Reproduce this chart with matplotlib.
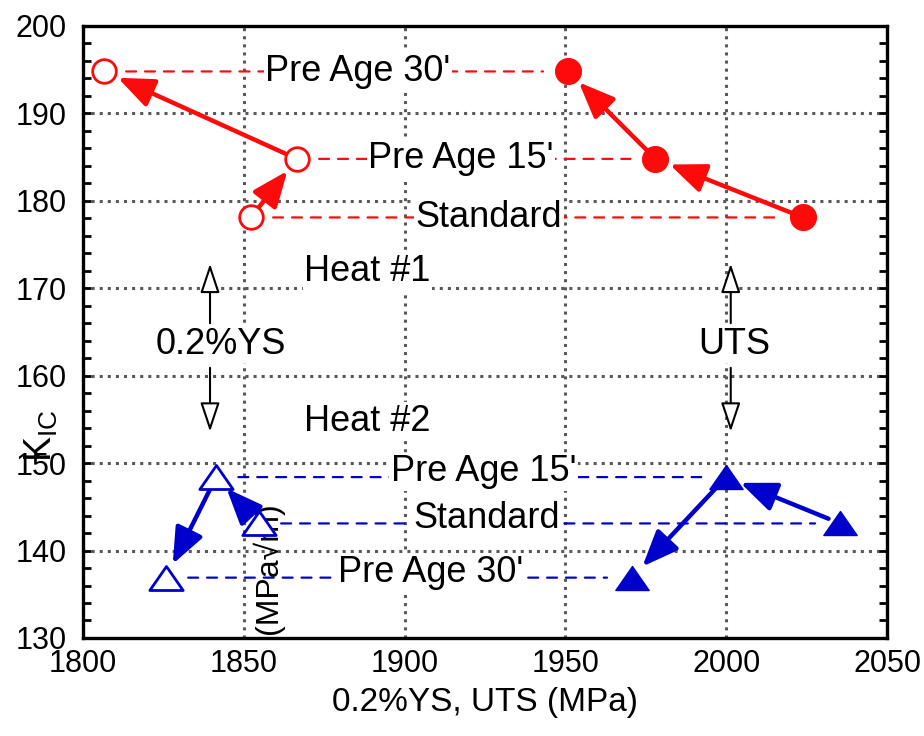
import matplotlib.pyplot as plt
from matplotlib.path import Path
from matplotlib.ticker import MultipleLocator

plt.rcParams['font.family'] = ['Liberation Sans', 'DejaVu Sans']

# Heat #1 (red circles): Standard, Pre Age 15', Pre Age 30'
heat1_ys = [1852.2, 1866.5, 1806.5]
heat1_uts = [2023.9, 1978.0, 1950.8]
heat1_kic = [178.1, 184.8, 194.8]
heat1_names = ['Standard', "Pre Age 15'", "Pre Age 30'"]
heat1_label_x = [1926.2, 1917.5, 1885.5]

# Heat #2 (blue triangles): Standard, Pre Age 15', Pre Age 30'
heat2_ys = [1854.7, 1841.4, 1825.8]
heat2_uts = [2035.4, 2000.0, 1970.7]
heat2_kic = [143.1, 148.4, 136.9]
heat2_names = ['Standard', "Pre Age 15'", "Pre Age 30'"]
heat2_label_x = [1925.5, 1924.5, 1908.0]

red = '#ff0a0a'
blue = '#0000cc'

# flattened triangle marker
tri = Path([(-1, -0.72), (1, -0.72), (0, 0.72), (-1, -0.72)], closed=True)

fig = plt.figure(figsize=(9.24, 7.36), dpi=100)
ax = fig.add_axes([0.0898, 0.1332, 0.8702, 0.8315])

ax.set_xlim(1800, 2050)
ax.set_ylim(130, 200)
ax.xaxis.set_major_locator(MultipleLocator(50))
ax.yaxis.set_major_locator(MultipleLocator(10))
ax.yaxis.set_minor_locator(MultipleLocator(2))
ax.set_axisbelow(True)
ax.grid(True, which='major', ls=':', color='0.35', lw=2.2)

ax.tick_params(axis='y', which='both', direction='in', left=True, right=True,
               length=6, width=2, labelsize=22, pad=12)
ax.tick_params(axis='x', which='both', length=0, labelsize=22, pad=8)
for s in ax.spines.values():
    s.set_linewidth(2.4)


def dashed(x0, x1, y, color):
    ax.annotate('', xy=(x1, y), xytext=(x0, y),
                arrowprops=dict(arrowstyle='-', ls=(0, (4.5, 4)), lw=1.6,
                                color=color, shrinkA=16, shrinkB=18),
                zorder=2)


def arrow(x0, y0, x1, y1, color):
    ax.annotate('', xy=(x1, y1), xytext=(x0, y0),
                arrowprops=dict(arrowstyle='-|>,head_length=1.1,head_width=0.45',
                                mutation_scale=20, lw=3.2, color=color,
                                shrinkA=9, shrinkB=11),
                zorder=4)


def label(x, y, s):
    ax.text(x, y, s, fontsize=26, ha='center', va='center', zorder=3,
            bbox=dict(fc='white', ec='none', pad=1))


for xs, xu, k, name, lx in zip(heat1_ys, heat1_uts, heat1_kic, heat1_names, heat1_label_x):
    dashed(xs, xu, k, red)
    label(lx, k, name)
for xs, xu, k, name, lx in zip(heat2_ys, heat2_uts, heat2_kic, heat2_names, heat2_label_x):
    dashed(xs, xu, k, blue)
    label(lx, k + 0.6, name)

# Standard -> 15' -> 30'
for i in range(2):
    arrow(heat1_ys[i], heat1_kic[i], heat1_ys[i + 1], heat1_kic[i + 1], red)
    arrow(heat1_uts[i], heat1_kic[i], heat1_uts[i + 1], heat1_kic[i + 1], red)
    arrow(heat2_ys[i], heat2_kic[i], heat2_ys[i + 1], heat2_kic[i + 1], blue)
    arrow(heat2_uts[i], heat2_kic[i], heat2_uts[i + 1], heat2_kic[i + 1], blue)

ax.plot(heat1_ys, heat1_kic, 'o', ms=17, mfc='white', mec=red, mew=2, zorder=5)
ax.plot(heat1_uts, heat1_kic, 'o', ms=18.5, color=red, zorder=5)
ax.plot(heat2_ys, heat2_kic, ls='none', marker=tri, ms=24, mfc='white', mec=blue, mew=2, zorder=5)
ax.plot(heat2_uts, heat2_kic, ls='none', marker=tri, ms=24, color=blue, zorder=5)

# heat labels and YS / UTS pointers
label(1888.5, 171.9, 'Heat #1')
label(1888.5, 154.8, 'Heat #2')
label(1843.0, 163.6, '0.2%YS')
label(2002.5, 163.6, 'UTS')
for px in [1839.5, 2001.4]:
    for y0, y1 in [(166.0, 172.8), (160.9, 153.6)]:
        ax.annotate('', xy=(px, y1), xytext=(px, y0),
                    arrowprops=dict(arrowstyle='-|>,head_length=0.9,head_width=0.3',
                                    mutation_scale=20, lw=1.5, fc='white', ec='black',
                                    shrinkA=0, shrinkB=0),
                    zorder=4)

ax.set_xlabel('0.2%YS, UTS (MPa)', fontsize=24, labelpad=6)
ax.text(-0.052, 0.33, r'K$_{\mathregular{IC}}$', transform=ax.transAxes, rotation=90,
        fontsize=27, ha='center', va='center')
ax.text(1857.5, 138.0, '(MPa√m)', rotation=90, fontsize=23, ha='center', va='center',
        zorder=3)

plt.savefig('out.png', dpi=100)
